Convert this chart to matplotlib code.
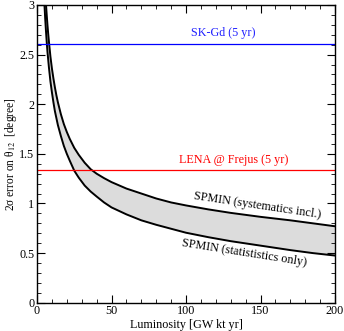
import matplotlib
matplotlib.use("Agg")
import matplotlib.pyplot as plt
from matplotlib.ticker import MultipleLocator

plt.rcParams['font.family'] = ['Liberation Serif', 'DejaVu Serif']
plt.rcParams['mathtext.fontset'] = 'stix'

# --- luminosity grid [GW kt yr]
lumi = [4.9, 5, 5.5, 6, 6.5, 7, 7.5, 8, 9, 10, 11, 12, 13, 14, 16, 18, 20, 22, 25,
        28, 32, 36, 40, 45, 50, 60, 70, 80, 90, 100, 115, 130, 150, 170, 185, 200]

# --- 2 sigma error on theta12, statistics only
err_stat = [3.03, 3.00, 2.86, 2.74, 2.63, 2.53, 2.45, 2.37, 2.23, 2.12, 2.02, 1.93,
            1.86, 1.79, 1.68, 1.58, 1.50, 1.43, 1.33, 1.26, 1.18, 1.12, 1.07, 1.01,
            0.96, 0.89, 0.83, 0.785, 0.745, 0.705, 0.66, 0.62, 0.575, 0.53,
            0.50, 0.475]

# --- with systematics
err_syst = [3.34, 3.29, 3.14, 3.01, 2.90, 2.80, 2.71, 2.63, 2.48, 2.36, 2.26, 2.17,
            2.09, 2.02, 1.90, 1.80, 1.72, 1.65, 1.56, 1.49, 1.41, 1.345, 1.30, 1.255,
            1.215, 1.15, 1.10, 1.05, 1.01, 0.98, 0.94, 0.905, 0.865, 0.83,
            0.80, 0.77]

skgd_err = 2.61
lena_err = 1.337

fig = plt.figure(figsize=(3.44, 3.31), dpi=100)
ax = fig.add_axes([0.1076, 0.0855, 0.8664, 0.8995])

ax.fill_between(lumi, err_stat, err_syst, color="#dcdcdc", lw=0)
ax.plot(lumi, err_syst, color="black", lw=1.4)
ax.plot(lumi, err_stat, color="black", lw=1.4)
ax.axhline(skgd_err, color="#0000ff", lw=0.9)
ax.axhline(lena_err, color="#ff0000", lw=0.9)

ax.text(125, 2.655, "SK-Gd (5 yr)", color="#2020ff", fontsize=8.7, ha="center", va="bottom")
ax.text(132, 1.38, "LENA @ Frejus (5 yr)", color="#ff0000", fontsize=8.7, ha="center", va="bottom")
ax.text(148, 0.975, "SPMIN (systematics incl.)", fontsize=8.7, ha="center", va="center",
        rotation=-8.5, rotation_mode="anchor")
ax.text(139, 0.50, "SPMIN (statististics only)", fontsize=8.7, ha="center", va="center",
        rotation=-9, rotation_mode="anchor")

ax.set_xlim(0, 200)
ax.set_ylim(0, 3)
ax.xaxis.set_major_locator(MultipleLocator(50))
ax.xaxis.set_minor_locator(MultipleLocator(10))
ax.yaxis.set_major_locator(MultipleLocator(0.5))
ax.yaxis.set_minor_locator(MultipleLocator(0.1))
ax.tick_params(which="both", direction="in", top=True, right=True, labelsize=8.7, pad=2)
ax.tick_params(which="major", length=5.5, width=0.8)
ax.tick_params(which="minor", length=2.8, width=0.6)
ax.set_yticks([0, 0.5, 1, 1.5, 2, 2.5, 3])
ax.set_yticklabels(["0", "0.5", "1", "1.5", "2", "2.5", "3"])
ax.set_xticks([0, 50, 100, 150, 200])
ax.set_xticklabels(["0", "50", "100", "150", "200"])
for s in ax.spines.values():
    s.set_linewidth(1.0)

ax.set_xlabel("Luminosity [GW kt yr]", fontsize=8.7, labelpad=1)
ax.set_ylabel(r"2σ error on θ$_{12}$  [degree]", fontsize=8.3, labelpad=0)
ax.yaxis.set_label_coords(-0.06, 0.5)

fig.savefig("out.png", dpi=100)
